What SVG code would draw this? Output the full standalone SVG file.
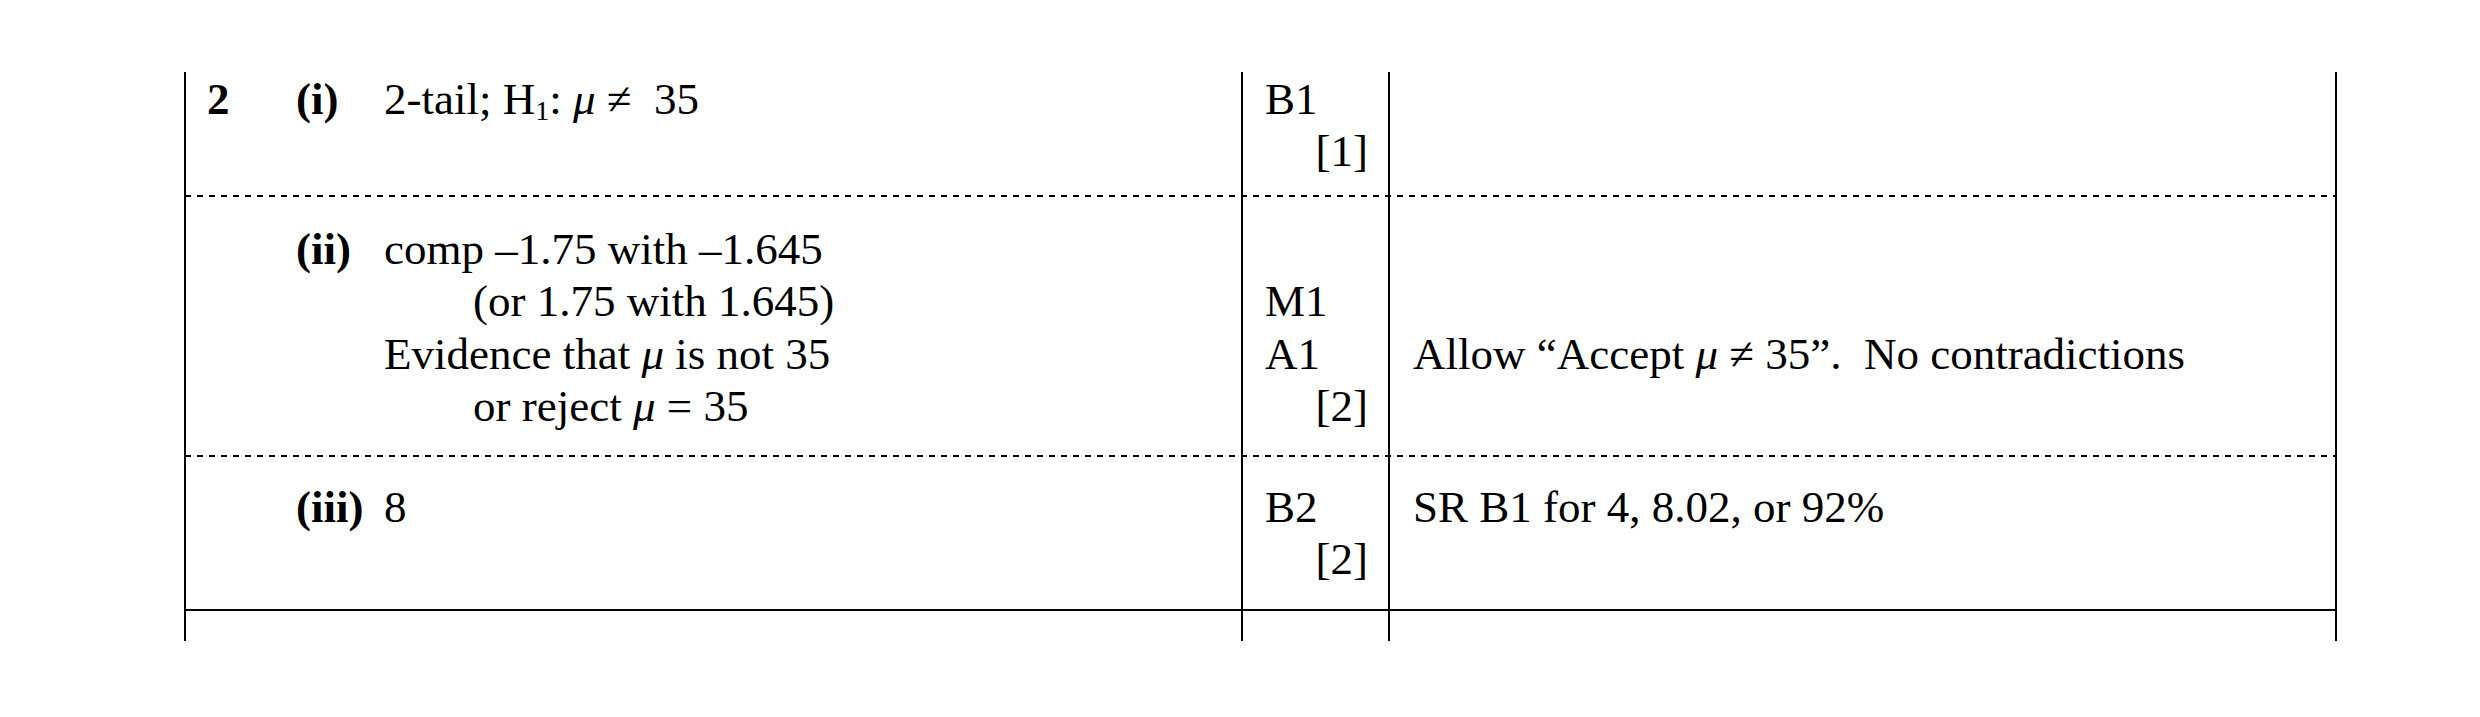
<svg xmlns="http://www.w3.org/2000/svg" width="2480" height="717" viewBox="0 0 2480 717">
<style>
text{font-family:"Liberation Serif","Times New Roman",serif;font-size:45px;fill:#000}
.b{font-weight:bold}
.r{text-anchor:end}
.s{stroke:#000;stroke-width:2;fill:none}
.d{stroke-dasharray:6 6}
</style>
<rect width="2480" height="717" fill="#fff"/>
<g id="grid">
<line class="s" x1="185" y1="72" x2="185" y2="641"/>
<line class="s" x1="1242" y1="72" x2="1242" y2="641"/>
<line class="s" x1="1389" y1="72" x2="1389" y2="641"/>
<line class="s" x1="2336" y1="72" x2="2336" y2="641"/>
<line class="s d" x1="185" y1="196" x2="2336" y2="196"/>
<line class="s d" x1="185" y1="456" x2="2336" y2="456"/>
<line class="s" x1="185" y1="610" x2="2336" y2="610"/>
</g>
<g id="row1">
<text class="b" x="207" y="114">2</text>
<text class="b" x="296" y="114">(i)</text>
<text x="384" y="114" xml:space="preserve">2-tail; H<tspan font-size="28" dy="6">1</tspan><tspan dy="-6">: </tspan><tspan font-style="italic">μ</tspan> ≠  35</text>
<text x="1265" y="114">B1</text>
<text class="r" x="1368" y="166">[1]</text>
</g>
<g id="row2">
<text class="b" x="296" y="264">(ii)</text>
<text x="384" y="264">comp –1.75 with –1.645</text>
<text x="473" y="316">(or 1.75 with 1.645)</text>
<text x="384" y="369">Evidence that <tspan font-style="italic">μ</tspan> is not 35</text>
<text x="473" y="421">or reject <tspan font-style="italic">μ</tspan> = 35</text>
<text x="1265" y="316">M1</text>
<text x="1265" y="369">A1</text>
<text class="r" x="1368" y="421">[2]</text>
<text x="1413" y="369" xml:space="preserve">Allow “Accept <tspan font-style="italic">μ</tspan> ≠ 35”.  No contradictions</text>
</g>
<g id="row3">
<text class="b" x="296" y="522">(iii)</text>
<text x="384" y="522">8</text>
<text x="1265" y="522">B2</text>
<text class="r" x="1368" y="574">[2]</text>
<text x="1413" y="522">SR B1 for 4, 8.02, or 92%</text>
</g>
</svg>
